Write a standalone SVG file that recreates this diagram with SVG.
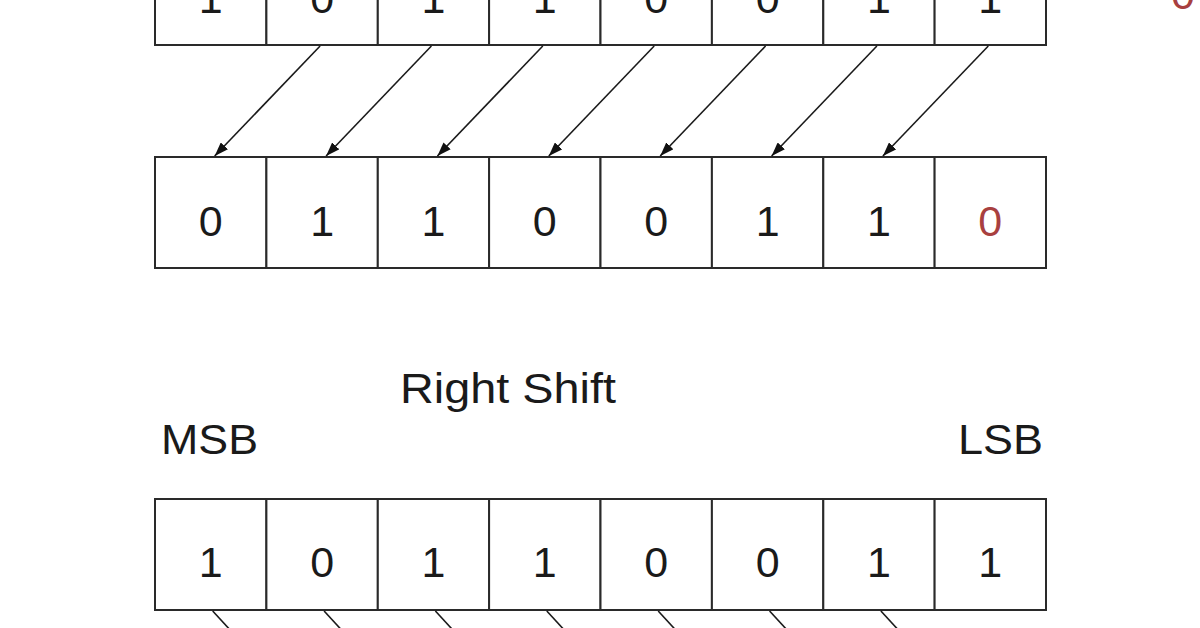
<svg xmlns="http://www.w3.org/2000/svg" width="1200" height="628" viewBox="0 0 1200 628">
  <style>
    .cell { fill: #ffffff; stroke: #2a2a2a; stroke-width: 2; }
    .bit { font-family: "Liberation Sans", Arial, sans-serif; font-size: 43px; fill: #1a1a1a; text-anchor: middle; }
    .red { fill: #a8403f; }
    .label { font-family: "Liberation Sans", Arial, sans-serif; font-size: 43px; fill: #1a1a1a; }
    .conn { stroke: #1a1a1a; stroke-width: 1.6; fill: none; }
  </style>
  <defs>
    <marker id="arrow" viewBox="0 0 14 10" refX="14" refY="5" markerWidth="14" markerHeight="10" markerUnits="userSpaceOnUse" orient="auto">
      <path d="M0,0 L14,5 L0,10 Z" fill="#111"/>
    </marker>
  </defs>
  <rect width="1200" height="628" fill="#ffffff"/>

  <!-- Row 1 (top, partially cut) -->
  <g id="row1">
    <rect class="cell" x="155" y="-66" width="111.4" height="111"/>
    <rect class="cell" x="266.4" y="-66" width="111.4" height="111"/>
    <rect class="cell" x="377.8" y="-66" width="111.4" height="111"/>
    <rect class="cell" x="489.1" y="-66" width="111.4" height="111"/>
    <rect class="cell" x="600.5" y="-66" width="111.4" height="111"/>
    <rect class="cell" x="711.9" y="-66" width="111.4" height="111"/>
    <rect class="cell" x="823.3" y="-66" width="111.4" height="111"/>
    <rect class="cell" x="934.6" y="-66" width="111.4" height="111"/>
    <text class="bit" x="210.7" y="13">1</text>
    <text class="bit" x="322.1" y="13">0</text>
    <text class="bit" x="433.4" y="13">1</text>
    <text class="bit" x="544.8" y="13">1</text>
    <text class="bit" x="656.2" y="13">0</text>
    <text class="bit" x="767.6" y="13">0</text>
    <text class="bit" x="878.9" y="13">1</text>
    <text class="bit" x="990.3" y="13">1</text>
  </g>
  <g id="incoming-zero">
    <text class="bit red" x="1183" y="9">0</text>
  </g>

  <!-- Row 2 (after left shift) -->
  <g id="row2">
    <rect class="cell" x="155" y="157" width="111.4" height="111"/>
    <rect class="cell" x="266.4" y="157" width="111.4" height="111"/>
    <rect class="cell" x="377.8" y="157" width="111.4" height="111"/>
    <rect class="cell" x="489.1" y="157" width="111.4" height="111"/>
    <rect class="cell" x="600.5" y="157" width="111.4" height="111"/>
    <rect class="cell" x="711.9" y="157" width="111.4" height="111"/>
    <rect class="cell" x="823.3" y="157" width="111.4" height="111"/>
    <rect class="cell" x="934.6" y="157" width="111.4" height="111"/>
    <text class="bit" x="210.7" y="236">0</text>
    <text class="bit" x="322.1" y="236">1</text>
    <text class="bit" x="433.4" y="236">1</text>
    <text class="bit" x="544.8" y="236">0</text>
    <text class="bit" x="656.2" y="236">0</text>
    <text class="bit" x="767.6" y="236">1</text>
    <text class="bit" x="878.9" y="236">1</text>
    <text class="bit red" x="990.3" y="236">0</text>
  </g>

  <!-- Labels -->
  <g id="title">
    <text class="label" x="400" y="403" textLength="216" lengthAdjust="spacingAndGlyphs">Right Shift</text>
  </g>
  <g id="msb">
    <text class="label" x="161" y="454" textLength="97" lengthAdjust="spacingAndGlyphs">MSB</text>
  </g>
  <g id="lsb">
    <text class="label" x="958" y="454" textLength="85" lengthAdjust="spacingAndGlyphs">LSB</text>
  </g>

  <!-- Row 3 (right shift source) -->
  <g id="row3">
    <rect class="cell" x="155" y="499" width="111.4" height="111"/>
    <rect class="cell" x="266.4" y="499" width="111.4" height="111"/>
    <rect class="cell" x="377.8" y="499" width="111.4" height="111"/>
    <rect class="cell" x="489.1" y="499" width="111.4" height="111"/>
    <rect class="cell" x="600.5" y="499" width="111.4" height="111"/>
    <rect class="cell" x="711.9" y="499" width="111.4" height="111"/>
    <rect class="cell" x="823.3" y="499" width="111.4" height="111"/>
    <rect class="cell" x="934.6" y="499" width="111.4" height="111"/>
    <text class="bit" x="210.7" y="577">1</text>
    <text class="bit" x="322.1" y="577">0</text>
    <text class="bit" x="433.4" y="577">1</text>
    <text class="bit" x="544.8" y="577">1</text>
    <text class="bit" x="656.2" y="577">0</text>
    <text class="bit" x="767.6" y="577">0</text>
    <text class="bit" x="878.9" y="577">1</text>
    <text class="bit" x="990.3" y="577">1</text>
  </g>

  <!-- Connectors -->
  <g id="connectors">
    <line class="conn" x1="320.1" y1="46" x2="214.7" y2="156" marker-end="url(#arrow)"/>
    <line class="conn" x1="431.4" y1="46" x2="326.1" y2="156" marker-end="url(#arrow)"/>
    <line class="conn" x1="542.8" y1="46" x2="437.4" y2="156" marker-end="url(#arrow)"/>
    <line class="conn" x1="654.2" y1="46" x2="548.8" y2="156" marker-end="url(#arrow)"/>
    <line class="conn" x1="765.6" y1="46" x2="660.2" y2="156" marker-end="url(#arrow)"/>
    <line class="conn" x1="876.9" y1="46" x2="771.6" y2="156" marker-end="url(#arrow)"/>
    <line class="conn" x1="988.3" y1="46" x2="882.9" y2="156" marker-end="url(#arrow)"/>

    <line class="conn" x1="212.7" y1="611" x2="232" y2="632"/>
    <line class="conn" x1="324.1" y1="611" x2="343.4" y2="632"/>
    <line class="conn" x1="435.4" y1="611" x2="454.7" y2="632"/>
    <line class="conn" x1="546.8" y1="611" x2="566.1" y2="632"/>
    <line class="conn" x1="658.2" y1="611" x2="677.5" y2="632"/>
    <line class="conn" x1="769.6" y1="611" x2="788.9" y2="632"/>
    <line class="conn" x1="880.9" y1="611" x2="900.2" y2="632"/>
  </g>
</svg>
